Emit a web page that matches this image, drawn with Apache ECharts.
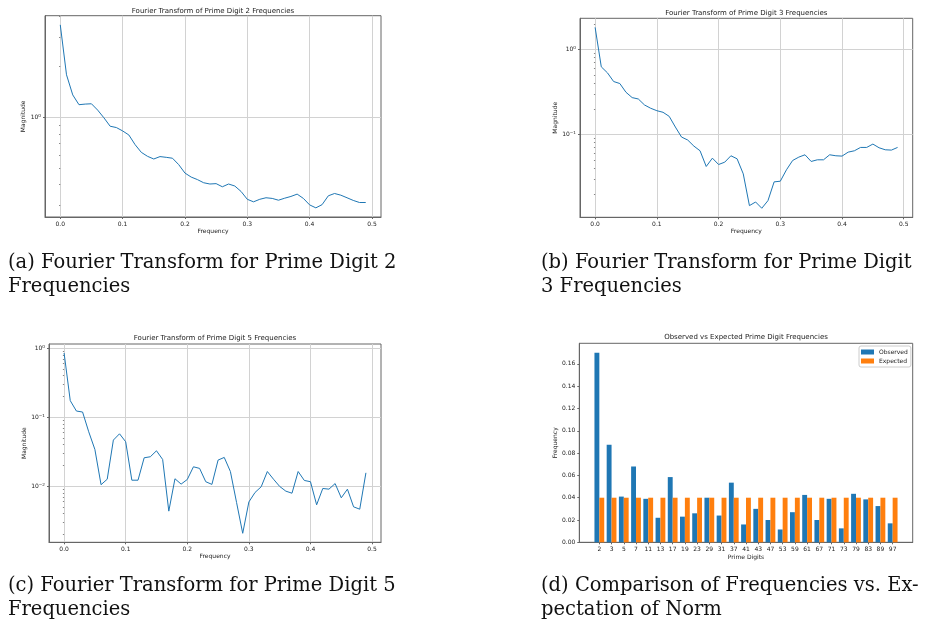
<!DOCTYPE html>
<html><head><meta charset="utf-8">
<script src="https://cdn.jsdelivr.net/npm/echarts@6/dist/echarts.min.js"></script>
<style>html,body{margin:0;padding:0;background:#fff}#c{width:927px;height:624px}</style>
</head><body><div id="c"></div>
<script>
// ---------------- data ----------------
const freq = [0.00,0.01,0.02,0.03,0.04,0.05,0.06,0.07,0.08,0.09,
              0.10,0.11,0.12,0.13,0.14,0.15,0.16,0.17,0.18,0.19,
              0.20,0.21,0.22,0.23,0.24,0.25,0.26,0.27,0.28,0.29,
              0.30,0.31,0.32,0.33,0.34,0.35,0.36,0.37,0.38,0.39,
              0.40,0.41,0.42,0.43,0.44,0.45,0.46,0.47,0.48,0.49];
const mag2 = [3.54,1.79,1.36,1.19,1.20,1.205,1.105,0.995,0.887,0.871,
              0.832,0.787,0.69,0.621,0.588,0.567,0.586,0.58,0.573,0.525,
              0.468,0.443,0.428,0.41,0.403,0.405,0.388,0.403,0.392,0.364,
              0.327,0.316,0.327,0.334,0.331,0.323,0.332,0.34,0.351,0.331,
              0.303,0.291,0.304,0.343,0.354,0.346,0.334,0.322,0.313,0.313];
const mag3 = [1.82,0.624,0.53,0.419,0.397,0.313,0.271,0.261,0.222,0.203,
              0.19,0.182,0.163,0.122,0.093,0.0858,0.0728,0.0641,0.0419,0.0525,
              0.0442,0.0471,0.056,0.0516,0.0343,0.0145,0.016,0.0135,0.0166,0.0276,
              0.0281,0.0383,0.0493,0.054,0.0575,0.048,0.0502,0.0502,0.0575,0.056,
              0.0555,0.0618,0.0641,0.0702,0.0702,0.0769,0.0696,0.0659,0.0653,0.0702];
const mag5 = [0.855,0.174,0.123,0.119,0.0615,0.0341,0.0105,0.0126,0.0466,0.0575,
              0.0441,0.0122,0.0122,0.0258,0.0267,0.0326,0.0244,0.00434,0.0128,0.0107,
              0.0125,0.0191,0.0181,0.0116,0.0106,0.0239,0.0261,0.0163,0.0058,0.00207,
              0.0059,0.0081,0.0098,0.0163,0.0126,0.0099,0.00846,0.0079,0.0163,0.0121,
              0.0116,0.00536,0.00925,0.00904,0.0109,0.00677,0.00904,0.00501,0.00463,0.0156];
const primes = ['2','3','5','7','11','13','17','19','23','29','31','37','41','43','47','53','59','61','67','71','73','79','83','89','97'];
const observed = [0.170,0.0875,0.041,0.068,0.039,0.022,0.0585,0.023,0.026,0.040,
                  0.024,0.0535,0.016,0.030,0.020,0.0115,0.027,0.0425,0.020,0.039,
                  0.0125,0.0435,0.0385,0.0325,0.017];
const expected = [0.04,0.04,0.04,0.04,0.04,0.04,0.04,0.04,0.04,0.04,
                  0.04,0.04,0.04,0.04,0.04,0.04,0.04,0.04,0.04,0.04,
                  0.04,0.04,0.04,0.04,0.04];
const freqTicks = [0,0.1,0.2,0.3,0.4,0.5];
const barYTicks = [0,0.02,0.04,0.06,0.08,0.10,0.12,0.14,0.16];
const titles = ['Fourier Transform of Prime Digit 2 Frequencies','Fourier Transform of Prime Digit 3 Frequencies',
                'Fourier Transform of Prime Digit 5 Frequencies','Observed vs Expected Prime Digit Frequencies'];
const captions = [['(a) Fourier Transform for Prime Digit 2','Frequencies'],
                  ['(b) Fourier Transform for Prime Digit','3 Frequencies'],
                  ['(c) Fourier Transform for Prime Digit 5','Frequencies'],
                  ['(d) Comparison of Frequencies vs. Ex-','pectation of Norm']];

// ---------------- style / layout ----------------
const SANS = 'DejaVu Sans', SERIF = 'DejaVu Serif';
const TXT = '#222', SPINE = '#666', GRIDC = '#d2d2d2';
const BLUE = '#1f77b4', ORANGE = '#ff7f0e';
const grids = [
  {left:45, top:15.7, width:336, height:201.3},
  {left:580, top:18.3, width:332.7, height:199},
  {left:49, top:344, width:332, height:198.3},
  {left:579.3, top:343.3, width:333.4, height:199}
];
const titleY = [11, 12.7, 337.7, 336.7];
const capPos = [[8,263],[541,263],[8,586],[541,586]];
const magGap = [18, 21, 21];

function linRange(lo, hi){ const m=(hi-lo)*0.05; return [lo-m, hi+m]; }
function logRange(arr){ const l=arr.map(Math.log10); const lo=Math.min(...l), hi=Math.max(...l); const m=(hi-lo)*0.05; return [Math.pow(10,lo-m), Math.pow(10,hi+m)]; }
function decades(r){ const out=[]; for(let k=Math.floor(Math.log10(r[0])); k<=Math.ceil(Math.log10(r[1])); k++){ out.push(k);} return out; }
function majors(r){ return decades(r).map(k=>Math.pow(10,k)).filter(v=>v>=r[0]*0.9999 && v<=r[1]*1.0001); }
function minors(r){ const o=[]; decades(r).forEach(k=>{ for(let j=2;j<=9;j++){ const v=j*Math.pow(10,k); if(v>=r[0] && v<=r[1]) o.push(+v.toPrecision(6)); } }); return o; }
function powFmt(v){ const e=Math.round(Math.log10(v)); return '{b|10}{s|'+(e<0?'\u2212'+(-e):e)+'}'; }

const lab = {fontSize:6, color:TXT, fontFamily:SANS};
const nameStyle = {fontSize:6, color:TXT, fontFamily:SANS};

const xAxis=[], yAxis=[], series=[];
const mags=[mag2,mag3,mag5];
const fr = linRange(Math.min(...freq), Math.max(...freq));
mags.forEach((m,i)=>{
  const r = logRange(m);
  xAxis.push({type:'value', gridIndex:i, min:fr[0], max:fr[1],
    axisLine:{show:true,onZero:false,lineStyle:{color:SPINE,width:1}},
    axisTick:{show:true,length:2,customValues:freqTicks,lineStyle:{color:SPINE,width:1}},
    axisLabel:Object.assign({customValues:freqTicks, margin:4, formatter:v=>v.toFixed(1)}, lab),
    splitLine:{show:true,lineStyle:{color:GRIDC,width:1}},
    name:'Frequency', nameLocation:'middle', nameGap:11, nameTextStyle:nameStyle});
  yAxis.push({type:'log', logBase:10, gridIndex:i, min:r[0], max:r[1], position:'left',
    axisLine:{show:true,onZero:false,lineStyle:{color:SPINE,width:1}},
    axisTick:{show:true,length:2,customValues:majors(r),lineStyle:{color:SPINE,width:1}},
    axisLabel:{customValues:majors(r), margin:4, formatter:powFmt,
      rich:{b:{fontSize:6,color:TXT,fontFamily:SANS,verticalAlign:'bottom'},
            s:{fontSize:4.2,color:TXT,fontFamily:SANS,verticalAlign:'top',padding:[0,0,3,0]}}},
    splitLine:{show:true,lineStyle:{color:GRIDC,width:1}},
    name:'Magnitude', nameLocation:'middle', nameGap:magGap[i], nameRotate:90, nameTextStyle:nameStyle});
  yAxis.push({type:'log', logBase:10, gridIndex:i, min:r[0], max:r[1], position:'left', offset:0,
    axisLine:{show:false}, axisLabel:{show:false}, splitLine:{show:false},
    axisTick:{show:true,length:1.2,customValues:minors(r),lineStyle:{color:SPINE,width:0.8}}});
  series.push({type:'line', xAxisIndex:i, yAxisIndex:2*i, symbol:'none', showSymbol:false,
    lineStyle:{color:BLUE,width:1}, data:freq.map((f,j)=>[f,m[j]]), animation:false, silent:true});
});

// bar panel
const idx = primes.map((p,i)=>i);
const br = linRange(-0.4, primes.length-1+0.4);
const yMax = Math.max(...observed, ...expected)*1.05;
xAxis.push({type:'value', gridIndex:3, min:br[0], max:br[1],
  axisLine:{show:true,onZero:false,lineStyle:{color:SPINE,width:1}},
  axisTick:{show:true,length:2,customValues:idx,lineStyle:{color:SPINE,width:1}},
  axisLabel:Object.assign({customValues:idx, margin:4, formatter:v=>primes[Math.round(v)]}, lab),
  splitLine:{show:false},
  name:'Prime Digits', nameLocation:'middle', nameGap:12, nameTextStyle:nameStyle});
yAxis.push({type:'value', gridIndex:3, min:0, max:yMax,
  axisLine:{show:true,onZero:false,lineStyle:{color:SPINE,width:1}},
  axisTick:{show:true,length:2,customValues:barYTicks,lineStyle:{color:SPINE,width:1}},
  axisLabel:Object.assign({customValues:barYTicks, margin:4, formatter:v=>v.toFixed(2)}, lab),
  splitLine:{show:false},
  name:'Frequency', nameLocation:'middle', nameGap:20, nameRotate:90, nameTextStyle:nameStyle});
const bw = grids[3].width/(br[1]-br[0])*0.4;
series.push({type:'bar', name:'Observed', xAxisIndex:3, yAxisIndex:6, barWidth:bw, barGap:'0%',
  itemStyle:{color:BLUE}, data:idx.map(i=>[i,observed[i]]), animation:false});
series.push({type:'bar', name:'Expected', xAxisIndex:3, yAxisIndex:6, barWidth:bw, barGap:'0%',
  itemStyle:{color:ORANGE}, data:idx.map(i=>[i,expected[i]]), animation:false});

const graphic=[];
grids.forEach((g,i)=>{
  graphic.push({type:'text', x:g.left+g.width/2, y:titleY[i], silent:true,
    style:{text:titles[i], align:'center', verticalAlign:'middle', textAlign:'center', textVerticalAlign:'middle',
      fontSize:7, fontFamily:SANS, fill:TXT}});
});
captions.forEach((c,i)=>{
  c.forEach((line,k)=>{
    graphic.push({type:'text', x:capPos[i][0], y:capPos[i][1]+k*23.5, silent:true,
      style:{text:line, align:'left', verticalAlign:'middle', textAlign:'left', textVerticalAlign:'middle',
        fontSize:19.5, fontFamily:SERIF, fill:'#111'}});
  });
});

const chart = echarts.init(document.getElementById('c'), null, {renderer:'canvas'});
chart.setOption({
  animation:false,
  backgroundColor:'#fff',
  grid: grids.map(g=>Object.assign({show:true, borderColor:SPINE, borderWidth:1, backgroundColor:'transparent', containLabel:false}, g)),
  xAxis, yAxis, series, graphic,
  legend:{orient:'vertical', left:859, top:346, data:['Observed','Expected'], icon:'rect',
    itemWidth:13, itemHeight:5, itemGap:3, textStyle:{fontSize:6,color:TXT,fontFamily:SANS},
    borderColor:'#cccccc', borderWidth:1, borderRadius:2, padding:[3,3,3,2], backgroundColor:'#fff'}
});
</script></body></html>
